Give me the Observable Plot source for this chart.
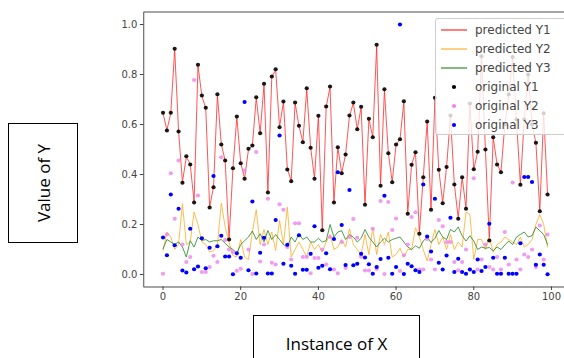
<!DOCTYPE html>
<html><head><meta charset="utf-8">
<script src="https://cdn.jsdelivr.net/npm/d3@7"></script>
<script src="https://cdn.jsdelivr.net/npm/@observablehq/plot@0.6"></script>
<style>
html,body{margin:0;padding:0;background:#fff;overflow:hidden;width:564px;height:358px}
#wrap{position:relative;width:564px;height:358px;overflow:hidden}
#chart{position:absolute;left:0;top:0;width:575px}
#chart svg{max-width:none !important}
.box{position:absolute;border:1.6px solid #000;box-sizing:border-box;background:#fff;font-family:"Open Sans",sans-serif;color:#000}
#ybox{left:8px;top:123px;width:70px;height:120px}
#ybox span{position:absolute;left:50%;top:50%;transform:translate(-50%,-50%) rotate(-90deg);white-space:nowrap;font-size:17px}
#xbox{left:253px;top:315px;width:167px;height:50px}
#xbox span{position:absolute;left:50%;top:27px;transform:translate(-50%,-50%);white-space:nowrap;font-size:17px}
#legend{position:absolute;left:435px;top:18px;width:140px;height:117px;background:rgba(255,255,255,0.8);border:1px solid #ccc;border-radius:3px;box-sizing:border-box;font-family:"DejaVu Sans",sans-serif;font-size:12px;color:#444}
.row{position:absolute;left:0;height:16px;width:140px}
.row svg{position:absolute;left:0;top:0}
.row span{position:absolute;left:39px;top:0;line-height:16px;white-space:nowrap}
</style></head>
<body><div id="wrap"><div id="chart"></div>
<div id="legend"></div>
<div class="box" id="ybox"><span>Value of Y</span></div>
<div class="box" id="xbox"><span>Instance of X</span></div>
</div>
<script>
const xTicks = [0, 20, 40, 60, 80, 100];
const yTicks = [0, 0.2, 0.4, 0.6, 0.8, 1.0];
const seriesNames = ["predicted Y1","predicted Y2","predicted Y3","original Y1","original Y2","original Y3"];

const origY1 = [0.647,0.576,0.647,0.903,0.572,0.367,0.473,0.44,0.288,0.839,
0.716,0.667,0.268,0.349,0.721,0.52,0.456,0.14,0.425,0.632,
0.445,0.383,0.503,0.516,0.709,0.565,0.763,0.328,0.792,0.821,
0.589,0.692,0.42,0.373,0.688,0.595,0.529,0.745,0.507,0.383,
0.635,0.177,0.672,0.752,0.288,0.509,0.405,0.48,0.636,0.688,
0.581,0.671,0.279,0.623,0.549,0.919,0.355,0.741,0.485,0.369,
0.52,0.541,0.693,0.243,0.439,0.489,0.163,0.389,0.612,0.259,
0.707,0.419,0.285,0.43,0.636,0.36,0.223,0.389,0.263,0.684,
0.421,0.491,0.873,0.5,0.136,0.549,0.44,0.409,0.6,0.72,
0.87,0.62,0.359,0.62,0.8,0.6,0.527,0.253,0.645,0.32];

const predY1 = [0.645,0.578,0.645,0.9,0.574,0.37,0.47,0.442,0.29,0.836,
0.714,0.665,0.27,0.35,0.718,0.522,0.455,0.142,0.424,0.63,
0.446,0.385,0.5,0.515,0.707,0.566,0.76,0.33,0.79,0.818,
0.59,0.69,0.422,0.375,0.686,0.594,0.53,0.742,0.508,0.385,
0.633,0.18,0.67,0.75,0.29,0.508,0.406,0.48,0.634,0.686,
0.582,0.669,0.281,0.621,0.55,0.915,0.357,0.738,0.486,0.37,
0.52,0.54,0.69,0.245,0.44,0.488,0.165,0.39,0.61,0.261,
0.705,0.42,0.287,0.43,0.634,0.361,0.225,0.39,0.265,0.682,
0.42,0.49,0.87,0.5,0.138,0.548,0.441,0.41,0.6,0.718,
0.868,0.619,0.36,0.62,0.798,0.6,0.526,0.255,0.643,0.322];

const origY2 = [0.003,0.16,0.405,0.223,0.456,0.12,0.05,0.07,0.778,0.316,
0.01,0.01,0.03,0.075,0.05,0.469,0.138,0.1,0.09,0.015,
0.023,0.415,0.1,0.002,0.49,0.052,0.12,0.303,0.047,0.04,
0.281,0.259,0.11,0.06,0.205,0.205,0.07,0.07,0.005,0.066,
0.066,0.1,0.04,0.15,0.02,0.005,0.13,0.027,0.15,0.222,
0.147,0.071,0.016,0.016,0.183,0.022,0.294,0.002,0.29,0.178,
0.224,0.014,0.077,0.12,0.23,0.249,0.02,0.02,0.142,0.06,
0.02,0.218,0.193,0.13,0.13,0.05,0.017,0.05,0.1,0.02,
0.385,0.02,0.06,0.12,0.03,0.02,0.07,0.02,0.17,0.04,
0.368,0.06,0.02,0.08,0.07,0.1,0.03,0.196,0.06,0.16];

const predY2 = [0.096,0.17,0.15,0.1,0.12,0.283,0.12,0.13,0.25,0.2,
0.13,0.12,0.09,0.095,0.12,0.286,0.19,0.13,0.076,0.07,
0.14,0.07,0.06,0.17,0.259,0.12,0.18,0.12,0.17,0.096,
0.216,0.12,0.27,0.07,0.1,0.13,0.1,0.07,0.13,0.1,
0.12,0.09,0.13,0.16,0.1,0.11,0.14,0.11,0.183,0.12,
0.1,0.08,0.16,0.08,0.187,0.08,0.16,0.12,0.17,0.07,
0.08,0.105,0.07,0.1,0.1,0.187,0.15,0.1,0.054,0.12,
0.18,0.12,0.15,0.1,0.16,0.1,0.13,0.11,0.25,0.24,
0.06,0.14,0.14,0.1,0.15,0.09,0.12,0.13,0.15,0.14,
0.13,0.12,0.15,0.11,0.12,0.14,0.2,0.24,0.2,0.11];

const origY3 = [0.148,0.077,0.32,0.117,0.263,0.016,0.008,0.183,0.021,0.032,
0.145,0.025,0.107,0.394,0.113,0.155,0.072,0.072,0.001,0.085,
0.067,0.69,0.017,0.292,0.004,0.087,0.147,0.004,0.004,0.218,
0.556,0.043,0.119,0.035,0.003,0.157,0.019,0.019,0.083,0.193,
0.027,0.035,0.085,0.021,0.142,0.409,0.198,0.038,0.338,0.037,
0.043,0.083,0.068,0.041,0.003,0.03,0.062,0.315,0.067,0.003,
0.03,1.0,0.002,0.043,0.033,0.017,0.01,0.36,0.152,0.092,
0.303,0.047,0.02,0.076,0.227,0.01,0.063,0.01,0.003,0.02,
0.01,0.06,0.014,0.03,0.203,0.067,0.003,0.003,0.067,0.003,
0.003,0.003,0.125,0.39,0.39,0.37,0.039,0.08,0.039,0.001];

const predY3 = [0.103,0.14,0.13,0.12,0.13,0.11,0.07,0.135,0.11,0.15,
0.136,0.14,0.13,0.135,0.135,0.14,0.125,0.11,0.1,0.085,
0.12,0.135,0.15,0.174,0.14,0.163,0.13,0.176,0.14,0.16,
0.14,0.12,0.11,0.15,0.13,0.163,0.14,0.15,0.13,0.13,
0.145,0.13,0.135,0.2,0.15,0.17,0.175,0.14,0.16,0.15,
0.13,0.145,0.18,0.15,0.13,0.11,0.13,0.145,0.13,0.14,
0.145,0.15,0.13,0.11,0.1,0.115,0.105,0.134,0.15,0.128,
0.145,0.176,0.15,0.14,0.18,0.17,0.19,0.155,0.134,0.155,
0.134,0.1,0.11,0.105,0.108,0.095,0.11,0.1,0.118,0.134,
0.12,0.15,0.16,0.17,0.15,0.155,0.19,0.175,0.16,0.12];

const colors = {p1:"#ff2a2a", p2:"#ffb030", p3:"#2e8b2e", o1:"#000000", o2:"#ee82ee", o3:"#0000ff"};
const X = (d, i) => i;
const Y = d => d;

const chart = Plot.plot({
  width: 575, height: 358,
  marginLeft: 143.3, marginRight: 8.7, marginTop: 11.5, marginBottom: 71.5,
  x: {domain: [-4.95, 103.95]},
  y: {domain: [-0.05, 1.05]},
  style: {fontFamily: "DejaVu Sans", fontSize: "10px", color: "#444", background: "transparent", maxWidth: "none", overflow: "visible"},
  marks: [
    Plot.axisX({ticks: xTicks, tickSize: 3.5, tickPadding: 2.5, label: null, tickFormat: d => String(d)}),
    Plot.axisY({ticks: yTicks, tickSize: 3.5, tickPadding: 3, label: null, tickFormat: d3.format(".1f")}),
    Plot.lineY(predY1, {x: X, y: Y, stroke: colors.p1, strokeWidth: 1, strokeOpacity: 0.8}),
    Plot.lineY(predY2, {x: X, y: Y, stroke: colors.p2, strokeWidth: 1, strokeOpacity: 0.85}),
    Plot.lineY(predY3, {x: X, y: Y, stroke: colors.p3, strokeWidth: 1, strokeOpacity: 0.85}),
    Plot.dot(origY1, {x: X, y: Y, r: 2.1, fill: colors.o1, stroke: "none", fillOpacity: 0.9}),
    Plot.dot(origY2, {x: X, y: Y, r: 2.1, fill: colors.o2, stroke: "none", fillOpacity: 0.8}),
    Plot.dot(origY3, {x: X, y: Y, r: 2.1, fill: colors.o3, stroke: "none"}),
    Plot.frame({stroke: "#222", strokeWidth: 0.8})
  ]
});
document.getElementById("chart").appendChild(chart);

// legend
const legend = document.getElementById("legend");
const legendColors = [colors.p1, colors.p2, colors.p3, colors.o1, colors.o2, colors.o3];
seriesNames.forEach((name, i) => {
  const row = document.createElement("div");
  row.className = "row";
  row.style.top = (3 + 19 * i) + "px";
  const svg = d3.create("svg").attr("width", 36).attr("height", 16);
  if (i < 3) {
    svg.append("line").attr("x1", 5).attr("x2", 31).attr("y1", 8).attr("y2", 8)
      .attr("stroke", legendColors[i]).attr("stroke-width", 1.2);
  } else {
    svg.append("circle").attr("cx", 18).attr("cy", 8).attr("r", 2.1).attr("fill", legendColors[i]);
  }
  row.appendChild(svg.node());
  const t = document.createElement("span");
  t.textContent = name;
  row.appendChild(t);
  legend.appendChild(row);
});
</script>
</body></html>
